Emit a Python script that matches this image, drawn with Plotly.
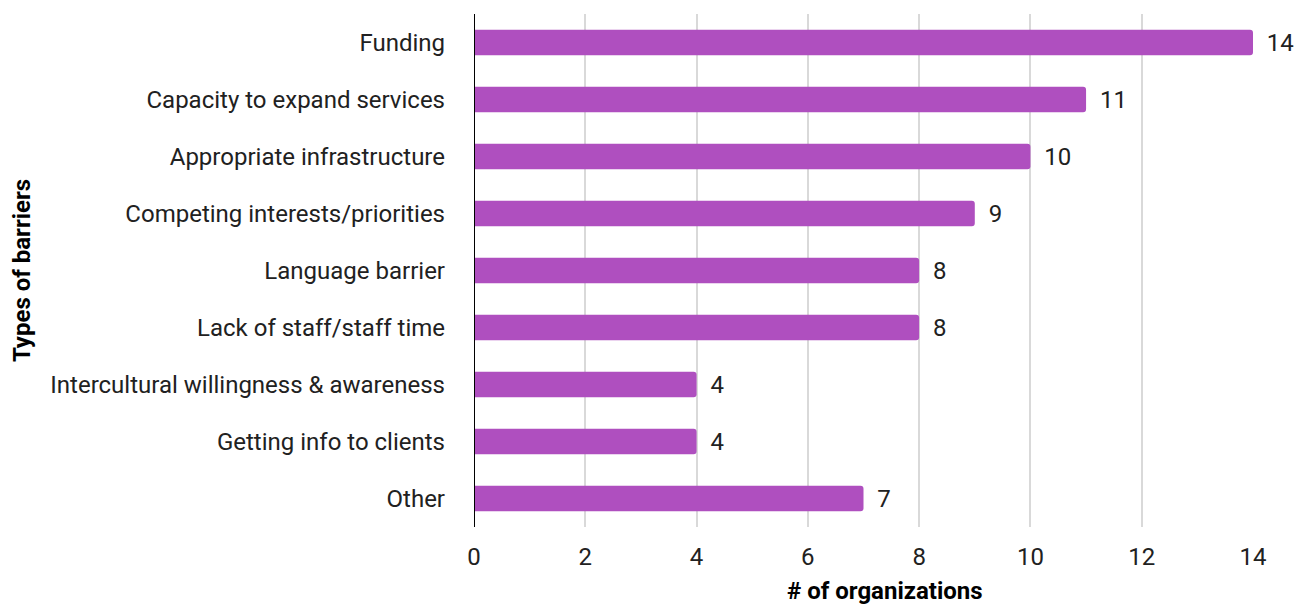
import plotly.graph_objects as go

categories = ["Funding", "Capacity to expand services", "Appropriate infrastructure",
              "Competing interests/priorities", "Language barrier", "Lack of staff/staff time",
              "Intercultural willingness & awareness", "Getting info to clients", "Other"]
values = [14, 11, 10, 9, 8, 8, 4, 4, 7]
x_ticks = [0, 2, 4, 6, 8, 10, 12, 14]

FS = 24

fig = go.Figure(go.Bar(
    y=categories, x=values, orientation="h",
    marker=dict(color="#AF4FBF", cornerradius=3, line=dict(width=0)),
    text=[f" \u2009{v}" for v in values], textposition="outside",
    textfont=dict(family="Roboto", size=FS, color="#212121"),
    constraintext="none", cliponaxis=False,
))

fig.update_layout(
    width=1295, height=608,
    margin=dict(l=474, r=42, t=14, b=81),
    plot_bgcolor="white", paper_bgcolor="white",
    bargap=0.55,
    showlegend=False,
    font=dict(family="Roboto", size=FS, color="#212121"),
    xaxis=dict(range=[0, 14], tickvals=x_ticks, showgrid=True, gridcolor="#d9d9d9",
               gridwidth=2, zeroline=False, showline=False, automargin=False,
               ticklabelstandoff=13,
               tickfont=dict(family="Roboto", size=FS, color="#212121")),
    yaxis=dict(autorange="reversed", showgrid=False, zeroline=False,
               showline=False, ticklabelstandoff=28, automargin=False,
               tickfont=dict(family="Roboto", size=FS, color="#212121"),
               title=dict(text="<b>Types of barriers</b>", standoff=12,
                          font=dict(family="Roboto", size=FS, color="#000000"))),
    shapes=[dict(type="line", xref="x", yref="paper", x0=0, x1=0, y0=0, y1=1,
                 line=dict(color="black", width=2))],
    annotations=[dict(text="<b># of organizations</b>", xref="paper", yref="paper",
                      x=0.5276, y=0, xanchor="center", yanchor="bottom", yshift=-80,
                      showarrow=False,
                      font=dict(family="Roboto", size=FS, color="#000000"))],
)

fig.write_html("out.html")
